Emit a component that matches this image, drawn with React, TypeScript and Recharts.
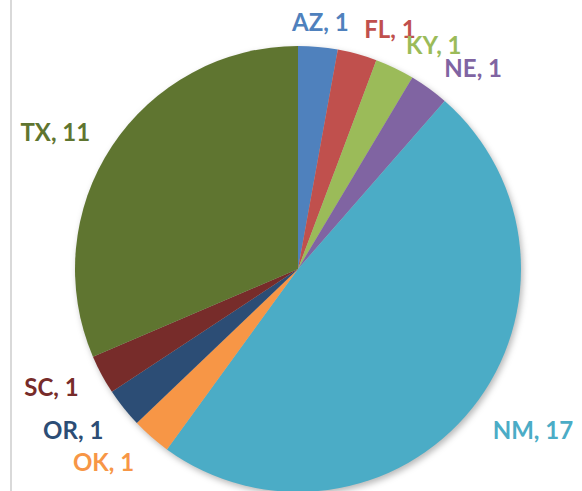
import React from 'react';
import { PieChart, Pie, Cell } from 'recharts';

const states = ['AZ', 'FL', 'KY', 'NE', 'NM', 'OK', 'OR', 'SC', 'TX'];
const counts = [1, 1, 1, 1, 17, 1, 1, 1, 11];
const colors = ['#4F81BD', '#C0504D', '#9BBB59', '#8064A2', '#4BACC6', '#F79646', '#2C4D75', '#772C2A', '#5F7530'];

const data = states.map((s, i) => ({ name: s, value: counts[i] }));

const RAD = Math.PI / 180;

const renderLabel = (props: any) => {
  const { cx, cy, midAngle, outerRadius, index } = props;
  const d = outerRadius + 26;
  const c = Math.cos(-midAngle * RAD);
  const s = Math.sin(-midAngle * RAD);
  const x = cx + d * c;
  const y = cy + d * s + (s > 0.5 ? 5 : 0);
  const anchor = c > 0.2 ? 'start' : c < -0.2 ? 'end' : 'middle';
  return (
    <text
      x={x}
      y={y}
      fill={colors[index]}
      textAnchor={anchor}
      dominantBaseline="central"
      style={{ fontFamily: 'Lato, "Open Sans", sans-serif', fontWeight: 700, fontSize: 24 }}
    >
      {`${data[index].name}, ${data[index].value}`}
    </text>
  );
};

export default function App() {
  return (
    <div style={{ position: 'absolute', left: 0, top: 0, width: 582, height: 491, background: '#fff', overflow: 'hidden' }}>
      <style>{'g:has(> .recharts-pie-sector) { filter: drop-shadow(2px 3px 3px rgba(0,0,0,0.28)); }'}</style>
      <div style={{ position: 'absolute', left: 10, top: 0, width: 2, height: 491, background: '#d9d9d9' }} />
      <div style={{ position: 'absolute', left: 0, top: 0 }}>
        <PieChart width={582} height={491} margin={{ top: 0, right: 0, bottom: 0, left: 0 }}>
          <Pie
            data={data}
            dataKey="value"
            nameKey="name"
            cx={298}
            cy={269}
            outerRadius={223}
            startAngle={90}
            endAngle={-270}
            stroke="none"
            label={renderLabel}
            labelLine={false}
            isAnimationActive={false}
          >
            {data.map((d, i) => (
              <Cell key={d.name} fill={colors[i]} />
            ))}
          </Pie>
        </PieChart>
      </div>
    </div>
  );
}
